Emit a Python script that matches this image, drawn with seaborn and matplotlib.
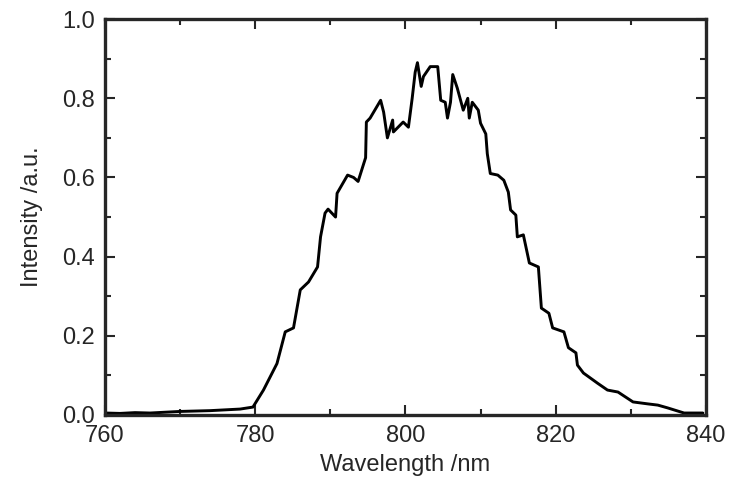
import numpy as np
import pandas as pd
import seaborn as sb
import matplotlib
matplotlib.use("Agg")
import matplotlib.pyplot as plt
from matplotlib.ticker import MultipleLocator

# espectro (comprimento de onda em nm, intensidade em u.a.)
wavelength = [760.0, 762.0, 764.0, 766.0, 768.0, 770.0, 772.0, 774.0, 776.0, 778.0,
              779.7, 781.1, 782.9, 784.0, 785.1, 786.0, 787.1, 788.3, 788.7, 789.3,
              789.7, 790.7, 790.9, 792.3, 793.1, 793.7, 794.7, 794.8, 795.3, 796.7,
              797.1, 797.6, 798.3, 798.4, 799.7, 800.4, 800.9, 801.3, 801.6, 802.1,
              802.4, 803.3, 804.3, 804.7, 805.3, 805.6, 806.0, 806.3, 806.9, 807.7,
              808.3, 808.5, 808.9, 809.7, 810.0, 810.7, 810.9, 811.3, 812.3, 813.1,
              813.7, 814.0, 814.7, 814.9, 815.7, 816.5, 817.7, 818.1, 819.1, 819.6,
              821.1, 821.7, 822.7, 822.9, 823.7, 825.6, 826.9, 828.3, 830.3, 832.3,
              833.6, 834.9, 837.1, 839.6]
intensity = [0.005, 0.004, 0.006, 0.005, 0.007, 0.009, 0.010, 0.011, 0.013, 0.015,
             0.020, 0.063, 0.130, 0.210, 0.220, 0.316, 0.336, 0.374, 0.450, 0.510,
             0.520, 0.500, 0.560, 0.606, 0.600, 0.590, 0.650, 0.740, 0.750, 0.795,
             0.765, 0.700, 0.745, 0.715, 0.740, 0.727, 0.800, 0.866, 0.890, 0.830,
             0.855, 0.880, 0.880, 0.795, 0.790, 0.750, 0.790, 0.860, 0.826, 0.770,
             0.800, 0.750, 0.790, 0.770, 0.737, 0.710, 0.660, 0.610, 0.606, 0.593,
             0.563, 0.518, 0.505, 0.450, 0.455, 0.384, 0.374, 0.270, 0.257, 0.220,
             0.210, 0.170, 0.157, 0.126, 0.106, 0.080, 0.063, 0.058, 0.033, 0.028,
             0.025, 0.018, 0.005, 0.005]

dados = pd.DataFrame({'Wavelength': wavelength, 'Intensity': intensity})

sb.set_style("ticks")
plt.rcParams['font.family'] = ['Liberation Sans', 'DejaVu Sans']

fig = plt.figure(figsize=(7.33, 4.78), dpi=100)
ax = fig.add_axes([0.1432, 0.1318, 0.8198, 0.8282])

sb.lineplot(data=dados, x='Wavelength', y='Intensity', color='black', linewidth=2.1, ax=ax)

ax.set_xlim(760, 840)
ax.set_ylim(0, 1.0)
ax.xaxis.set_major_locator(MultipleLocator(20))
ax.xaxis.set_minor_locator(MultipleLocator(10))
ax.yaxis.set_major_locator(MultipleLocator(0.2))
ax.yaxis.set_minor_locator(MultipleLocator(0.1))
ax.set_yticklabels([f'{v:.1f}' for v in ax.get_yticks()])

# ticks para dentro nos quatro lados
ax.tick_params(which='both', direction='in', top=True, right=True, labelsize=17, width=1.5)
ax.tick_params(which='major', length=7, pad=7)
ax.tick_params(which='minor', length=4)
for s in ax.spines.values():
    s.set_linewidth(2.4)
    s.set_visible(True)

ax.set_xlabel('Wavelength /nm', fontsize=17, labelpad=5)
ax.set_ylabel('Intensity /a.u.', fontsize=17, labelpad=14)

plt.savefig('out.png', dpi=100)
